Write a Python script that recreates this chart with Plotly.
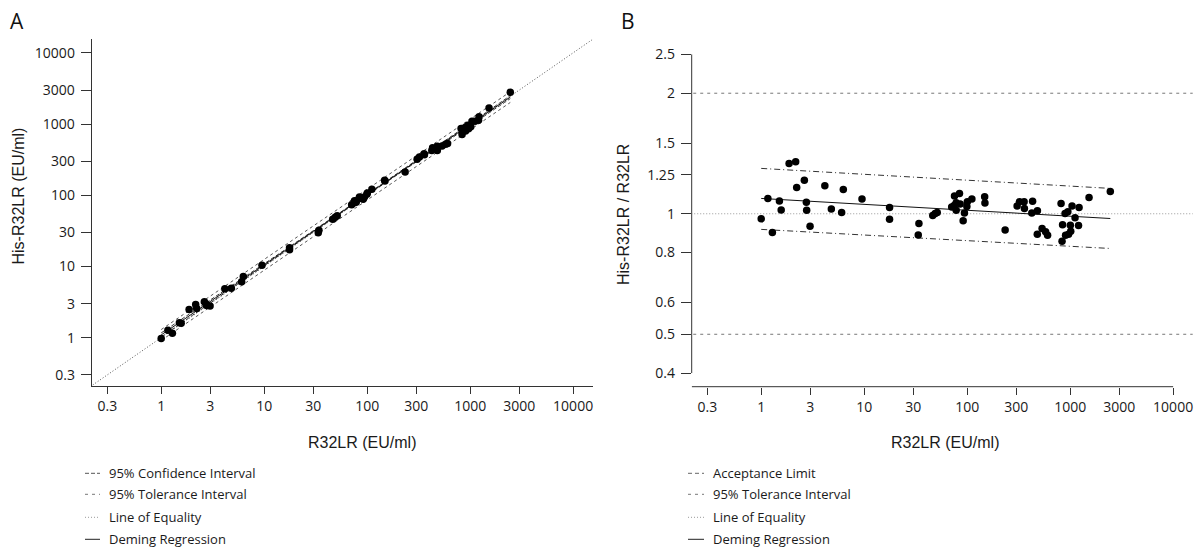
import plotly.graph_objects as go

# ---------------- data ----------------
r32lr = [1.865, 2.161, 2.21, 2.624, 4.148, 6.27, 1.161, 1.502, 2.745, 9.52,
         17.63, 1.563, 2.763, 4.797, 6.04, 1.0, 17.63, 1.284, 2.981, 34.0,
         33.5, 46.3, 48.9, 51.2, 70.7, 74.8, 78.2, 75.3, 84.2, 78.2,
         85.5, 91.4, 94.1, 99.3, 100.4, 111.1, 147.8, 148.8, 233.7, 305.5,
         321.6, 357.2, 359.6, 431.8, 424.2, 480.8, 479.7, 533.9, 577.3, 603.7,
         816, 843.9, 834.5, 892.3, 949.9, 902.5, 965, 1004.6, 1013.5, 1043,
         1116, 1220, 1206, 1525.6, 2454]
his_r32lr = [2.49, 2.913, 2.57, 3.183, 4.87, 7.21, 1.267, 1.617, 2.934, 10.36,
             18.28, 1.596, 2.821, 4.927, 6.085, 0.971, 17.09, 1.153, 2.775, 32.16,
             29.65, 45.84, 49.0, 51.58, 73.53, 78.39, 79.84, 83.36, 94.64, 83.28,
             90.37, 87.74, 94.57, 103.5, 107.6, 120.9, 162.9, 158.2, 212.7, 319.2,
             344.4, 382.6, 370.8, 464.2, 426.3, 489.0, 426.5, 490.7, 520.7, 533.7,
             865.8, 791.6, 712.7, 894.1, 960.3, 797.8, 857.9, 940.3, 916.2, 1090,
             1091, 1264, 1128, 1674, 2788]

tick_vals_x = [0.3, 1, 3, 10, 30, 100, 300, 1000, 3000, 10000]
tick_text_x = ["0.3", "1", "3", "10", "30", "100", "300", "1000", "3000", "10000"]
tick_vals_yb = [0.4, 0.5, 0.6, 0.8, 1, 1.25, 1.5, 2, 2.5]
tick_text_yb = ["0.4", "0.5", "0.6", "0.8", "1", "1.25", "1.5", "2", "2.5"]

# Deming regression and intervals (as ratio His-R32LR / R32LR)
deming_x = [1, 2454]
deming_ratio = [1.092, 0.973]
ti_upper_ratio = [1.298, 1.157]
ti_lower_ratio = [0.914, 0.819]
ci_x = [1, 3, 10, 30, 100, 300, 1000, 2454]
ci_upper_ratio = [1.165, 1.128, 1.090, 1.060, 1.039, 1.030, 1.023, 1.021]
ci_lower_ratio = [1.024, 1.024, 1.022, 1.017, 1.002, 0.979, 0.950, 0.927]
acceptance_limits = [0.5, 2]
equality_x = [0.1, 100000]

legend_a_labels = ["95% Confidence Interval", "95% Tolerance Interval",
                   "Line of Equality", "Deming Regression"]
legend_b_labels = ["Acceptance Limit", "95% Tolerance Interval",
                   "Line of Equality", "Deming Regression"]

# ---------------- styling ----------------
TICK_FONT = dict(family="Open Sans", size=14, color="#1a1a1a")
TITLE_FONT = dict(family="Liberation Sans", size=16, color="#1a1a1a")
LEG_FONT = dict(family="Open Sans", size=13, color="#1a1a1a")
AX = "#333333"
DOT = "1px,2px"

W, H = 1200, 551
LOGR = [-0.675, 4.19]

def py(v):
    return 1 - v / H

def px(v):
    return v / W

ratio = [h / x for h, x in zip(his_r32lr, r32lr)]

fig = go.Figure()

# ---------- Panel A ----------
fig.add_trace(go.Scatter(x=equality_x, y=equality_x, mode="lines",
                         line=dict(color="#555555", width=1, dash=DOT),
                         xaxis="x", yaxis="y", showlegend=False))
for band in (ti_upper_ratio, ti_lower_ratio):
    fig.add_trace(go.Scatter(x=deming_x, y=[x * r for x, r in zip(deming_x, band)],
                             mode="lines",
                             line=dict(color="#555555", width=1, dash="3px,3px"),
                             xaxis="x", yaxis="y", showlegend=False))
for band in (ci_upper_ratio, ci_lower_ratio):
    fig.add_trace(go.Scatter(x=ci_x, y=[x * r for x, r in zip(ci_x, band)],
                             mode="lines", line_shape="spline",
                             line=dict(color="#333333", width=1, dash="4px,2px"),
                             xaxis="x", yaxis="y", showlegend=False))
fig.add_trace(go.Scatter(x=deming_x, y=[x * r for x, r in zip(deming_x, deming_ratio)],
                         mode="lines", line=dict(color="#111111", width=1),
                         xaxis="x", yaxis="y", showlegend=False))
fig.add_trace(go.Scatter(x=r32lr, y=his_r32lr, mode="markers",
                         marker=dict(color="black", size=7.5),
                         xaxis="x", yaxis="y", showlegend=False))

# ---------- Panel B ----------
for lim in acceptance_limits:
    fig.add_trace(go.Scatter(x=equality_x, y=[lim, lim], mode="lines",
                             line=dict(color="#777777", width=1, dash="3px,4px"),
                             xaxis="x2", yaxis="y2", showlegend=False))
fig.add_trace(go.Scatter(x=equality_x, y=[1, 1], mode="lines",
                         line=dict(color="#999999", width=1, dash=DOT),
                         xaxis="x2", yaxis="y2", showlegend=False))
for band in (ti_upper_ratio, ti_lower_ratio):
    fig.add_trace(go.Scatter(x=deming_x, y=band, mode="lines",
                             line=dict(color="#333333", width=1, dash="6px,3px,1px,3px"),
                             xaxis="x2", yaxis="y2", showlegend=False))
fig.add_trace(go.Scatter(x=deming_x, y=deming_ratio, mode="lines",
                         line=dict(color="#111111", width=1),
                         xaxis="x2", yaxis="y2", showlegend=False))
fig.add_trace(go.Scatter(x=r32lr, y=ratio, mode="markers",
                         marker=dict(color="black", size=7.5),
                         xaxis="x2", yaxis="y2", showlegend=False))

common_x = dict(type="log", range=LOGR, tickvals=tick_vals_x, ticktext=tick_text_x,
                ticks="outside", ticklen=7, tickwidth=1, tickcolor=AX,
                tickfont=TICK_FONT, showgrid=False, zeroline=False)
common_y = dict(ticks="outside", ticklen=10, tickwidth=1, tickcolor=AX,
                tickfont=TICK_FONT, showgrid=False, zeroline=False,
                ticklabelstandoff=3)

fig.update_layout(
    width=W, height=H, margin=dict(l=0, r=0, t=0, b=0),
    paper_bgcolor="white", plot_bgcolor="white", showlegend=False,
    xaxis=dict(domain=[px(91.7), px(592.7)], anchor="y",
               showline=True, linecolor=AX, linewidth=1, **common_x),
    yaxis=dict(domain=[py(385.7), py(39.3)], anchor="x", type="log", range=LOGR,
               tickvals=tick_vals_x, ticktext=tick_text_x,
               showline=True, linecolor=AX, linewidth=1, **common_y),
    xaxis2=dict(domain=[px(691.7), px(1192.7)], anchor="y2",
                showline=False, **common_x),
    yaxis2=dict(domain=[py(386.7), py(40.8)], anchor="x2", type="log",
                range=[-0.432, 0.432], tickvals=tick_vals_yb, ticktext=tick_text_yb,
                showline=False, **common_y),
)

shapes = [
    dict(type="line", xref="x2 domain", yref="y2", x0=0, x1=0,
         y0=tick_vals_yb[0], y1=tick_vals_yb[-1], line=dict(color=AX, width=1)),
    dict(type="line", xref="x2", yref="y2 domain", x0=10 ** LOGR[0], x1=tick_vals_x[-1],
         y0=0, y1=0, line=dict(color=AX, width=1)),
]

annotations = [
    dict(text="A", x=px(17), y=py(21), font=dict(family="Open Sans", size=21, color="#111")),
    dict(text="B", x=px(628), y=py(21), font=dict(family="Open Sans", size=21, color="#111")),
    dict(text="R32LR (EU/ml)", x=px(362), y=py(442), font=TITLE_FONT),
    dict(text="R32LR (EU/ml)", x=px(945), y=py(442), font=TITLE_FONT),
    dict(text="His-R32LR (EU/ml)", x=px(17.5), y=py(196), font=TITLE_FONT, textangle=-90),
    dict(text="His-R32LR / R32LR", x=px(624), y=py(215), font=TITLE_FONT, textangle=-90),
]

leg_rows = [473.3, 494.3, 517.3, 539.3]
leg_styles = [
    [dict(color="#555555", width=1, dash="4px,2px"),
     dict(color="#777777", width=1, dash="3px,4px"),
     dict(color="#999999", width=1, dash=DOT),
     dict(color="#222222", width=1)],
    [dict(color="#666666", width=1, dash="4px,3px"),
     dict(color="#777777", width=1, dash="3px,4px"),
     dict(color="#999999", width=1, dash=DOT),
     dict(color="#222222", width=1)],
]
for (labels, lx0, lx1, tx), styles in zip(
        [(legend_a_labels, 85, 100, 107), (legend_b_labels, 688, 704, 711)], leg_styles):
    for lab, yy, st in zip(labels, leg_rows, styles):
        shapes.append(dict(type="line", xref="paper", yref="paper",
                           x0=px(lx0), x1=px(lx1), y0=py(yy), y1=py(yy), line=st))
        annotations.append(dict(text=lab, x=px(tx), y=py(yy), xanchor="left",
                                font=LEG_FONT))

for a in annotations:
    a.setdefault("xref", "paper")
    a.setdefault("yref", "paper")
    a.setdefault("showarrow", False)
    a.setdefault("xanchor", "center")
    a.setdefault("yanchor", "middle")

fig.update_layout(shapes=shapes, annotations=annotations)

fig.write_html("out.html", config={"displayModeBar": False},
               post_script="document.body.style.margin='0';document.body.style.overflow='hidden';")
